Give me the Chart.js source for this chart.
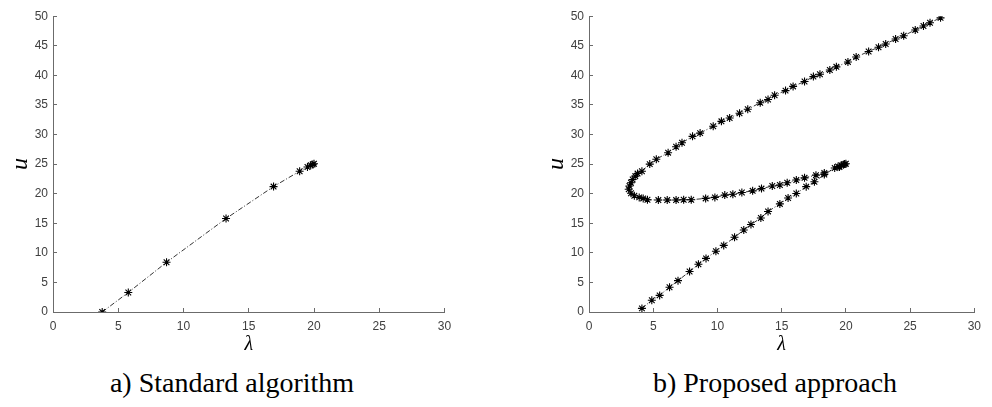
<!DOCTYPE html>
<html>
<head>
<meta charset="utf-8">
<script src="https://cdn.jsdelivr.net/npm/chart.js@4.4.1/dist/chart.umd.min.js"></script>
<style>
  html, body { margin: 0; padding: 0; background: #fff; }
  #wrap { position: relative; width: 992px; height: 407px; overflow: hidden; }
  canvas { position: absolute; top: 0; }
  #chartA { left: 0; }
  #chartB { left: 536px; }
  .caption {
    position: absolute; top: 369px; width: 400px;
    font-family: "Liberation Serif", serif; font-size: 28px; line-height: 28px;
    text-align: center; color: #000; white-space: nowrap;
  }
</style>
</head>
<body>
<div id="wrap">
  <canvas id="chartA" width="470" height="360"></canvas>
  <canvas id="chartB" width="456" height="360"></canvas>
  <div class="caption" style="left: 32px;">a) Standard algorithm</div>
  <div class="caption" style="left: 575px;">b) Proposed approach</div>
</div>
<script>
// axis ticks
const xTicks = [0, 5, 10, 15, 20, 25, 30];
const yTicks = [0, 5, 10, 15, 20, 25, 30, 35, 40, 45, 50];

// a) standard algorithm: lambda / u
const lamA = [3.77, 5.77, 8.7, 13.26, 16.9, 18.9, 19.5, 19.75, 19.9, 20.0];
const uA   = [0.0, 3.3, 8.4, 15.8, 21.2, 23.8, 24.5, 24.8, 24.95, 25.05];

// b) proposed approach: lower branch, back along the middle branch, then upper branch
const lamB = [
    4.12, 4.89, 5.50, 6.27, 6.93, 7.83, 8.52, 9.11, 9.88, 10.49, 11.33, 12.05, 12.61, 13.38,
    13.94, 14.86, 15.50, 16.14, 16.91, 17.55, 18.32, 19.13, 19.39, 19.65, 19.9, 20.0,
    19.8, 19.5, 18.32, 17.67, 16.78, 16.14, 15.43, 14.86, 14.27, 13.43, 12.74, 11.9, 11.2,
    10.57, 9.8, 9.08, 7.96, 7.37, 6.78, 6.09, 5.4, 4.55, 4.22, 3.91, 3.53, 3.27, 3.09,
    3.15, 3.27, 3.4, 3.6, 3.78, 4.12, 4.73, 5.24, 6.16, 6.78, 7.24, 8.06, 8.65, 9.67,
    10.31, 10.95, 11.72, 12.36, 13.33, 13.94, 14.45, 15.3, 15.89, 16.78, 17.47, 17.98,
    18.75, 19.26, 20.16, 20.8, 21.77, 22.54, 23.1, 23.87, 24.5, 25.4, 26.04, 26.55, 27.37
];
const uB = [
    0.61, 1.99, 2.81, 4.19, 5.30, 6.84, 8.06, 9.06, 10.26, 11.26, 12.63, 13.86, 14.79, 15.89,
    17.0, 18.27, 19.26, 20.03, 21.19, 22.02, 23.23, 24.34, 24.6, 24.8, 25.0, 25.05,
    24.9, 24.5, 23.5, 23.13, 22.68, 22.3, 21.85, 21.47, 21.3, 20.86, 20.48, 20.2, 19.9,
    19.76, 19.37, 19.2, 18.98, 18.98, 18.92, 18.92, 18.92, 18.98, 19.2, 19.37, 19.65, 20.08, 20.75,
    21.3, 21.85, 22.4, 22.96, 23.4, 23.8, 25.0, 25.83, 26.93, 27.93, 28.6, 29.69, 30.24, 31.4,
    32.23, 32.78, 33.6, 34.27, 35.38, 35.93, 36.64, 37.42, 38.13, 38.96, 39.79, 40.18,
    40.9, 41.44, 42.27, 43.1, 44.04, 44.75, 45.31, 46.14, 46.69, 47.68, 48.34, 48.9, 49.72
];

const axisColor = '#6b6b6b';
const tickFont = { family: 'Liberation Sans, Arial, sans-serif', size: 12 };

function makeChart(id, lam, u, padRight) {
    const ctx = document.getElementById(id).getContext('2d');
    return new Chart(ctx, {
        type: 'scatter',
        data: {
            datasets: [{
                data: lam.map((x, i) => ({ x: x, y: u[i] })),
                showLine: true,
                borderColor: '#000',
                borderWidth: 0.8,
                borderDash: [5, 2, 1, 2],
                pointStyle: 'star',
                pointRadius: 4,
                pointBorderWidth: 1.1,
                pointBorderColor: '#000',
                pointBackgroundColor: '#000'
            }]
        },
        options: {
            responsive: false,
            animation: false,
            layout: { padding: { top: 10, right: padRight, left: 0, bottom: 0 } },
            plugins: { legend: { display: false }, tooltip: { enabled: false } },
            scales: {
                x: {
                    type: 'linear',
                    min: 0,
                    max: 30,
                    afterBuildTicks: s => { s.ticks = xTicks.map(v => ({ value: v })); },
                    afterFit: s => { s.height = 48; },
                    border: { display: true, color: axisColor, width: 1 },
                    grid: { drawOnChartArea: false, drawTicks: true, tickLength: -4, color: axisColor },
                    ticks: { color: '#404040', font: tickFont, padding: 11, maxRotation: 0 },
                    title: {
                        display: true,
                        text: 'λ',
                        color: '#000',
                        font: { family: 'Liberation Serif, serif', size: 20, style: 'italic' },
                        padding: { top: 0, bottom: 3 }
                    }
                },
                y: {
                    type: 'linear',
                    min: 0,
                    max: 50,
                    afterBuildTicks: s => { s.ticks = yTicks.map(v => ({ value: v })); },
                    afterFit: s => { s.width = 53; },
                    border: { display: true, color: axisColor, width: 1 },
                    grid: { drawOnChartArea: false, drawTicks: true, tickLength: -4, color: axisColor },
                    ticks: { color: '#404040', font: tickFont, padding: 9 },
                    title: {
                        display: true,
                        text: 'u',
                        color: '#000',
                        font: { family: 'Liberation Serif, serif', size: 24, style: 'italic' },
                        padding: { top: 6, bottom: 0 }
                    }
                }
            }
        }
    });
}

const charts = {
    a: makeChart('chartA', lamA, uA, 25.5),
    b: makeChart('chartB', lamB, uB, 12)
};
</script>
</body>
</html>
